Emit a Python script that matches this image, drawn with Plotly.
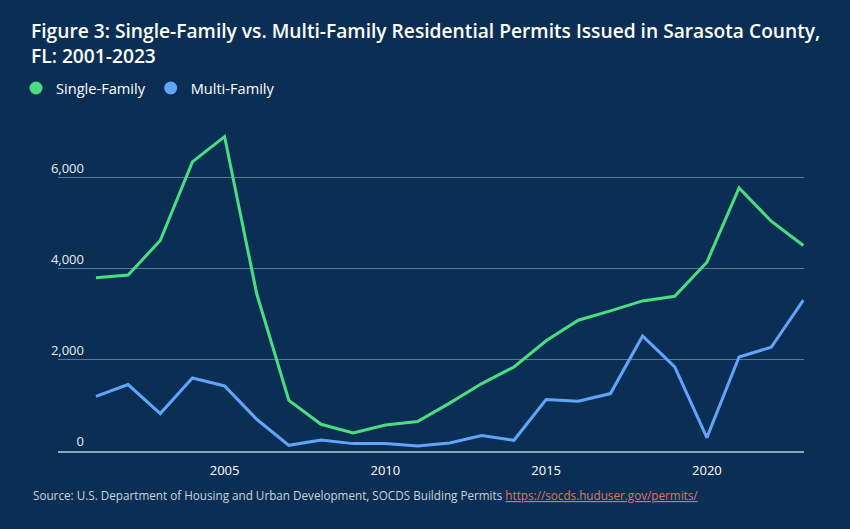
import plotly.graph_objects as go

years = list(range(2001, 2024))
single_family = [3800, 3860, 4620, 6345, 6900, 3450, 1110, 586, 395, 570, 645, 1050,
                 1480, 1844, 2420, 2870, 3074, 3293, 3396, 4143, 5774, 5043, 4509]
multi_family = [1200, 1458, 821, 1603, 1427, 696, 125, 241, 162, 162, 110, 176,
                338, 235, 1128, 1091, 1260, 2525, 1844, 294, 2064, 2277, 3309]
y_ticks = [0, 2000, 4000, 6000]
x_ticks = [2005, 2010, 2015, 2020]

BG = "#0b2f54"
GREEN = "#4ade80"
BLUE = "#60a5fa"
FONT = "Open Sans"

fig = go.Figure()
fig.add_trace(go.Scatter(x=years, y=single_family, mode="lines", name="Single-Family",
                         line=dict(color=GREEN, width=3), showlegend=False))
fig.add_trace(go.Scatter(x=years, y=multi_family, mode="lines", name="Multi-Family",
                         line=dict(color=BLUE, width=3), showlegend=False))
# legend entries with circle symbols
fig.add_trace(go.Scatter(x=[None], y=[None], mode="markers", name="Single-Family",
                         marker=dict(color=GREEN, size=13, symbol="circle")))
fig.add_trace(go.Scatter(x=[None], y=[None], mode="markers", name="Multi-Family",
                         marker=dict(color=BLUE, size=13, symbol="circle")))

fig.update_layout(
    width=850, height=529,
    paper_bgcolor=BG, plot_bgcolor=BG,
    margin=dict(l=58, r=46, t=132, b=78),
    font=dict(family=FONT, color="#e8edf3", size=13),
    title=dict(
        text="Figure 3: Single-Family vs. Multi-Family Residential Permits Issued in Sarasota County,<br>FL: 2001-2023",
        x=31 / 850, xanchor="left", xref="container",
        y=1 - 38 / 529, yanchor="top", yref="container",
        font=dict(family=FONT, size=19.2, color="#ffffff", weight=600),
    ),
    legend=dict(
        orientation="h", x=16 / 850, xanchor="left", xref="container",
        y=1 - 72 / 529, yanchor="top", yref="container",
        font=dict(family=FONT, size=14.6, color="#ffffff"),
        itemwidth=30, tracegroupgap=0,
        bgcolor="rgba(0,0,0,0)",
    ),
    showlegend=True,
    hovermode=False,
)

fig.update_xaxes(
    range=[1999.82, 2023.02],
    tickvals=x_ticks, ticktext=[str(v) for v in x_ticks],
    showgrid=False, zeroline=False,
    showline=True, linecolor="#8ea4bc", linewidth=2,
    ticks="", ticklabelstandoff=6,
    tickfont=dict(family=FONT, size=13, color="#ffffff"),
)
fig.update_yaxes(
    range=[0, 7000],
    tickvals=y_ticks, ticktext=[f"{v:,}" for v in y_ticks],
    showgrid=True, gridcolor="rgba(160,180,205,0.55)", gridwidth=1,
    zeroline=False, showline=False,
    ticks="", ticklabelposition="outside top", ticklabelstandoff=-27,
    tickfont=dict(family=FONT, size=13, color="#e8edf3"),
)

fig.add_annotation(
    text="Source: U.S. Department of Housing and Urban Development, SOCDS Building Permits "
         "<a href='https://socds.huduser.gov/permits/'><span style='color:#e2725b;text-decoration:underline'>https://socds.huduser.gov/permits/</span></a>",
    xref="paper", yref="paper", x=-27 / 746, y=-(495 - 450.7) / 319, xanchor="left", yanchor="middle",
    showarrow=False, font=dict(family=FONT, size=11.7, color="#c9d3de"),
)

fig.write_html(
    "out.html",
    config={"displayModeBar": False},
    post_script="document.body.style.margin='0';document.body.style.overflow='hidden';",
)
